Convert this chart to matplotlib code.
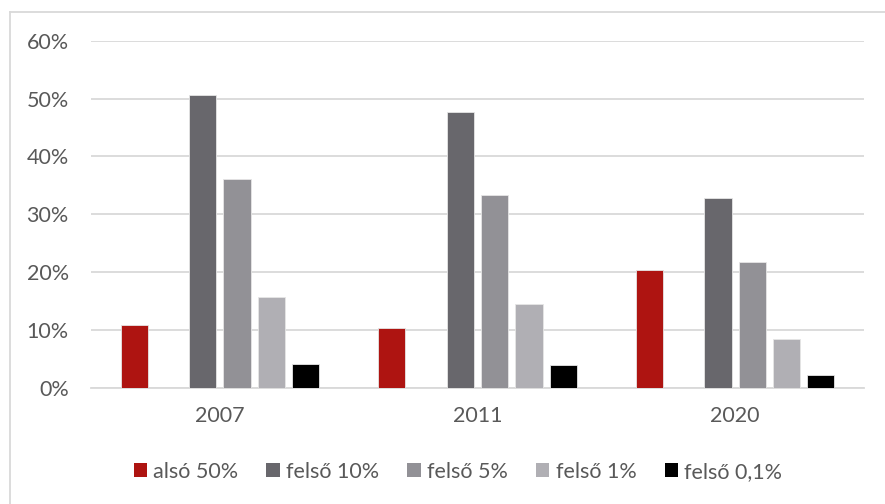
import matplotlib
matplotlib.use("Agg")
import matplotlib.pyplot as plt
from matplotlib.lines import Line2D
from matplotlib.patches import Patch
import numpy as np

plt.rcParams['font.family'] = ['Lato', 'DejaVu Sans']

years = ["2007", "2011", "2020"]
series_names = ["alsó 50%", "felső 10%", "felső 5%", "felső 1%", "felső 0,1%"]
also_50 = [0.108, 0.103, 0.204]
felso_10 = [0.506, 0.476, 0.328]
felso_5 = [0.361, 0.333, 0.217]
felso_1 = [0.156, 0.145, 0.084]
felso_01 = [0.0405, 0.039, 0.0215]
values = [also_50, felso_10, felso_5, felso_1, felso_01]
colors = ["#AE1411", "#68676C", "#929196", "#B0AFB4", "#000000"]
slots = [0, 2, 3, 4, 5]  # second slot of six is empty

W, H = 885, 504
FS = 15.5
fig = plt.figure(figsize=(W / 100, H / 100), dpi=100)
ax = fig.add_axes([91 / W, 1 - 387.7 / H, (864 - 91) / W, (387.7 - 40.7) / H])

slot_w = 0.1332
bar_w = 0.105
x = np.arange(len(years))
for vals, col, s, name in zip(values, colors, slots, series_names):
    ax.bar(x + (s - 2.5) * slot_w, vals, width=bar_w, color=col,
           edgecolor="#E6E6E6", linewidth=0.6, label=name, zorder=3)

ax.set_xlim(-0.5, 2.5)
ax.set_ylim(0, 0.6)
ticks = np.arange(0, 0.61, 0.1)
ax.set_yticks(ticks)
ax.set_yticklabels([f"{int(round(v * 100))}%" for v in ticks])
ax.set_xticks(x)
ax.set_xticklabels(years)
ax.yaxis.grid(True, color="#D9D9D9", linewidth=1.3, zorder=0)
ax.set_axisbelow(True)
for sp in ["top", "right", "left"]:
    ax.spines[sp].set_visible(False)
ax.spines["bottom"].set_color("#D9D9D9")
ax.spines["bottom"].set_linewidth(1.3)
ax.tick_params(axis="both", length=0, colors="#595959", labelsize=FS)
ax.tick_params(axis="y", pad=16)
ax.tick_params(axis="x", pad=13)

handles = [Patch(facecolor=c, edgecolor="none") for c in colors]
fig.legend(handles, series_names, loc="center", bbox_to_anchor=(458 / W, 1 - 472 / H),
           ncol=5, frameon=False, fontsize=FS, handlelength=0.62, handleheight=0.62,
           handletextpad=0.3, columnspacing=1.3, labelcolor="#595959",
           borderaxespad=0, borderpad=0)

# chart border (left & top visible in crop)
fig.add_artist(Line2D([9.5 / W, 9.5 / W], [0, 1 - 11.5 / H], transform=fig.transFigure,
                      color="#D9D9D9", linewidth=1.3))
fig.add_artist(Line2D([9.5 / W, 1], [1 - 11.5 / H, 1 - 11.5 / H], transform=fig.transFigure,
                      color="#D9D9D9", linewidth=1.3))

fig.savefig("out.png", dpi=100)
